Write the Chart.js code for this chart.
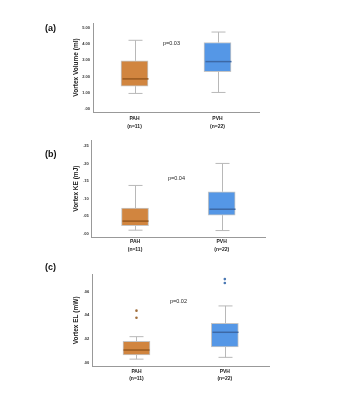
<!DOCTYPE html>
<html>
<head>
<meta charset="utf-8">
<script src="https://cdn.jsdelivr.net/npm/chart.js@4.4.0/dist/chart.umd.min.js"></script>
<style>
body { margin: 0; background: #fff; width: 338px; height: 400px; position: relative; overflow: hidden; font-family: "Liberation Sans", Arial, sans-serif; }
canvas { position: absolute; left: 0; }
.tag { position: absolute; font-weight: bold; font-size: 9px; line-height: 1; color: #111; }
.pv { position: absolute; font-size: 5.5px; line-height: 1; color: #222; }
</style>
</head>
<body>
<canvas id="vol" width="338" height="130" style="top:0"></canvas>
<canvas id="ke" width="338" height="130" style="top:130px"></canvas>
<canvas id="el" width="338" height="140" style="top:260px"></canvas>

<div class="tag" style="left:45px;top:24px">(a)</div>
<div class="tag" style="left:45px;top:150px">(b)</div>
<div class="tag" style="left:45px;top:263px">(c)</div>
<div class="pv" style="left:163px;top:41px">p=0.03</div>
<div class="pv" style="left:168px;top:176px">p=0.04</div>
<div class="pv" style="left:170px;top:299px">p=0.02</div>

<script>
var groups = ['PAH', 'PVH'];
var groupN = ['(n=11)', '(n=22)'];

// vortex volume (ml)
var volMin = [0.95, 1.01];
var volQ1 = [1.40, 2.30];
var volMed = [1.85, 2.92];
var volQ3 = [2.97, 4.10];
var volMax = [4.24, 4.75];
var volTicks = [0, 1, 2, 3, 4, 5];
var volTickLabels = ['.00', '1.00', '2.00', '3.00', '4.00', '5.00'];

// vortex KE (mJ)
var keMin = [0.010, 0.009];
var keQ1 = [0.023, 0.053];
var keMed = [0.036, 0.070];
var keQ3 = [0.073, 0.120];
var keMax = [0.138, 0.201];
var keTicks = [0, 0.05, 0.10, 0.15, 0.20, 0.25];
var keTickLabels = ['.00', '.05', '.10', '.15', '.20', '.25'];

// vortex EL (mW)
var elMin = [0.0030, 0.0045];
var elQ1 = [0.0065, 0.0133];
var elMed = [0.0107, 0.0257];
var elQ3 = [0.0180, 0.0333];
var elMax = [0.0220, 0.0480];
var elOut1 = [0.044, 0.0707];
var elOut2 = [0.038, 0.0674];
var elTicks = [0, 0.02, 0.04, 0.06];
var elTickLabels = ['.00', '.02', '.04', '.06'];

var boxFill = ['#d1853f', '#5597e6'];
var medColor = ['#98591f', '#3d69a6'];
var outColor = ['#a06d3a', '#4a78b3'];

// whiskers, caps and medians drawn with the chart's own scales
function boxPlugin(mins, meds, maxs, q1s, q3s) {
    return {
        id: 'whiskers',
        afterDatasetsDraw: function (chart) {
            var x = chart.scales.x, y = chart.scales.y, ctx = chart.ctx;
            ctx.save();
            meds.forEach(function (m, i) {
                var cx = Math.round(x.getPixelForValue(i)) + 0.5;
                ctx.strokeStyle = '#b8b8b8';
                ctx.lineWidth = 1;
                ctx.beginPath();
                ctx.moveTo(cx, y.getPixelForValue(maxs[i]));
                ctx.lineTo(cx, y.getPixelForValue(q3s[i]));
                ctx.moveTo(cx, y.getPixelForValue(q1s[i]));
                ctx.lineTo(cx, y.getPixelForValue(mins[i]));
                ctx.moveTo(cx - 7, y.getPixelForValue(maxs[i]));
                ctx.lineTo(cx + 7, y.getPixelForValue(maxs[i]));
                ctx.moveTo(cx - 7, y.getPixelForValue(mins[i]));
                ctx.lineTo(cx + 7, y.getPixelForValue(mins[i]));
                ctx.stroke();
                ctx.strokeStyle = medColor[i];
                ctx.lineWidth = 1.5;
                ctx.beginPath();
                ctx.moveTo(cx - 13, y.getPixelForValue(m));
                ctx.lineTo(cx + 13, y.getPixelForValue(m));
                ctx.stroke();
            });
            ctx.restore();
        }
    };
}

function makePanel(id, p) {
    var datasets = [{
        type: 'bar',
        data: p.q1.map(function (v, i) { return [v, p.q3[i]]; }),
        backgroundColor: boxFill,
        borderColor: 'rgba(140,140,140,0.5)',
        borderWidth: 1,
        borderSkipped: false,
        barThickness: 27
    }];
    (p.outliers || []).forEach(function (o) {
        datasets.push({
            type: 'line',
            data: o,
            showLine: false,
            pointRadius: 1.3,
            pointBorderWidth: 0,
            pointBackgroundColor: outColor
        });
    });

    return new Chart(document.getElementById(id), {
        type: 'bar',
        data: {
            labels: groups.map(function (g, i) { return [g, groupN[i]]; }),
            datasets: datasets
        },
        options: {
            responsive: false,
            animation: false,
            layout: { padding: { left: 72, right: p.right, top: p.top, bottom: 0 } },
            plugins: { legend: { display: false }, tooltip: { enabled: false } },
            scales: {
                x: {
                    grid: { display: false, drawTicks: false },
                    border: { color: '#999' },
                    ticks: { padding: p.labelPad, color: '#222', font: { family: 'Liberation Sans', size: 5, weight: 'bold', lineHeight: 1.5 } },
                    afterFit: function (s) { s.height = p.xHeight; }
                },
                y: {
                    min: p.min,
                    max: p.max,
                    grid: { display: false, drawTicks: false },
                    border: { color: '#999' },
                    afterBuildTicks: function (s) { s.ticks = p.ticks.map(function (v) { return { value: v }; }); },
                    ticks: {
                        autoSkip: false,
                        padding: 3,
                        color: '#333',
                        font: { family: 'Liberation Sans', size: 4, weight: 'bold' },
                        callback: function (v) { return p.tickLabels[p.ticks.indexOf(v)]; }
                    },
                    title: { display: true, text: p.title, padding: 0, color: '#222', font: { family: 'Liberation Sans', size: 6.5, weight: 'bold' } },
                    afterFit: function (s) { s.width = p.yWidth; }
                }
            }
        },
        plugins: [boxPlugin(p.mn, p.med, p.mx, p.q1, p.q3)]
    });
}

makePanel('vol', {
    mn: volMin, q1: volQ1, med: volMed, q3: volQ3, mx: volMax,
    ticks: volTicks, tickLabels: volTickLabels, title: 'Vortex Volume (ml)',
    min: -0.2, max: 5.31, top: 23, right: 79, yWidth: 21, xHeight: 18, labelPad: 3
});

makePanel('ke', {
    mn: keMin, q1: keQ1, med: keMed, q3: keQ3, mx: keMax,
    ticks: keTicks, tickLabels: keTickLabels, title: 'Vortex KE (mJ)',
    min: -0.0103, max: 0.268, top: 10, right: 73, yWidth: 19.7, xHeight: 22.7, labelPad: 1
});

makePanel('el', {
    mn: elMin, q1: elQ1, med: elMed, q3: elQ3, mx: elMax, outliers: [elOut1, elOut2],
    ticks: elTicks, tickLabels: elTickLabels, title: 'Vortex EL (mW)',
    min: -0.0034, max: 0.075, top: 14, right: 69, yWidth: 20.3, xHeight: 33.3, labelPad: 1
});
</script>
</body>
</html>
